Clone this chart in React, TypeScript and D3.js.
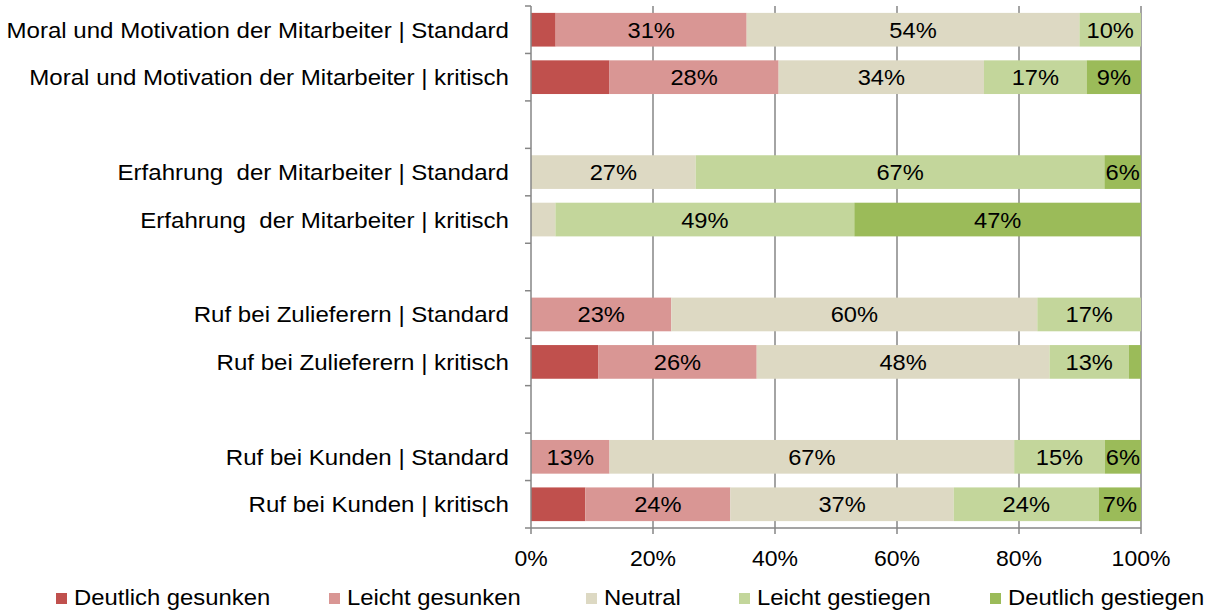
import React from 'react';
import * as d3 from 'd3';

const categories = [
  'Moral und Motivation der Mitarbeiter | Standard',
  'Moral und Motivation der Mitarbeiter | kritisch',
  '',
  'Erfahrung  der Mitarbeiter | Standard',
  'Erfahrung  der Mitarbeiter | kritisch',
  ' ',
  'Ruf bei Zulieferern | Standard',
  'Ruf bei Zulieferern | kritisch',
  '  ',
  'Ruf bei Kunden | Standard',
  'Ruf bei Kunden | kritisch',
];

const seriesNames = ['Deutlich gesunken', 'Leicht gesunken', 'Neutral', 'Leicht gestiegen', 'Deutlich gestiegen'];
const colors = ['#C0504D', '#D99694', '#DDD9C3', '#C3D69B', '#9BBB59'];

const deutlichGesunken = [4, 13, 0, 0, 0, 0, 0, 11, 0, 0, 9];
const leichtGesunken = [31, 28, 0, 0, 0, 0, 23, 26, 0, 13, 24];
const neutral = [54, 34, 0, 27, 4, 0, 60, 48, 0, 67, 37];
const leichtGestiegen = [10, 17, 0, 67, 49, 0, 17, 13, 0, 15, 24];
const deutlichGestiegen = [0, 9, 0, 6, 47, 0, 0, 2, 0, 6, 7];

const xTicks = [0, 0.2, 0.4, 0.6, 0.8, 1];

const font = 'Liberation Sans, Arial, sans-serif';

// the reference text is a bit stretched horizontally
function Label({ x, y, anchor = 'start', sx = 1.1, children }: any) {
  return (
    <text transform={`translate(${x},${y}) scale(${sx},1)`} textAnchor={anchor} fontFamily={font}
      fontSize={21.5} fill="#000" style={{ whiteSpace: 'pre' }}>{children}</text>
  );
}

export default function App() {
  const width = 1213;
  const height = 613;
  const left = 531;
  const right = 1141;
  const top = 6;
  const bottom = 528;

  const seriesValues = [deutlichGesunken, leichtGesunken, neutral, leichtGestiegen, deutlichGestiegen];
  const rows = categories.map((c, i) => {
    const r: any = { cat: c };
    seriesNames.forEach((s, j) => { r[s] = seriesValues[j][i]; });
    return r;
  });
  const stacked = d3.stack<any>().keys(seriesNames).offset(d3.stackOffsetExpand)(rows);

  const x = d3.scaleLinear().domain([0, 1]).range([left, right]);
  const y = d3.scaleBand().domain(categories).range([top, bottom]).paddingInner(0.29).paddingOuter(0.145);
  const band = (bottom - top) / categories.length;

  return (
    <svg width={width} height={height} style={{ position: 'absolute', left: 0, top: 0 }}>
      <rect width={width} height={height} fill="#fff" />
      {xTicks.slice(1).map(t => (
        <line key={t} x1={x(t)} x2={x(t)} y1={top} y2={bottom} stroke="#868686" strokeWidth={1.5} />
      ))}
      {stacked.map((s, si) => (
        <g key={s.key}>
          {s.map((d, i) => {
            const v = seriesValues[si][i];
            if (!v || isNaN(d[0]) || isNaN(d[1])) return null;
            const x0 = x(d[0]);
            const x1 = x(d[1]);
            const yy = y(categories[i])!;
            return (
              <g key={i}>
                <rect x={x0} y={yy} width={x1 - x0} height={y.bandwidth()} fill={colors[si]} />
                {si > 0 && v >= 5 && (
                  <Label x={(x0 + x1) / 2} y={yy + y.bandwidth() / 2 + 8} anchor="middle">{v}%</Label>
                )}
              </g>
            );
          })}
        </g>
      ))}
      <line x1={left} x2={left} y1={top} y2={bottom} stroke="#868686" strokeWidth={1.5} />
      <line x1={left} x2={right} y1={bottom} y2={bottom} stroke="#868686" strokeWidth={1.5} />
      {d3.range(categories.length + 1).map(i => (
        <line key={i} x1={left - 6} x2={left} y1={top + i * band} y2={top + i * band} stroke="#868686" strokeWidth={1.5} />
      ))}
      {xTicks.map(t => (
        <g key={t}>
          <line x1={x(t)} x2={x(t)} y1={bottom} y2={bottom + 6} stroke="#868686" strokeWidth={1.5} />
          <Label x={x(t)} y={bottom + 38} anchor="middle" sx={1.07}>{d3.format('.0%')(t)}</Label>
        </g>
      ))}
      {categories.map(c => c.trim() && (
        <Label key={c} x={509} y={y(c)! + y.bandwidth() / 2 + 8} anchor="end" sx={1.12}>{c}</Label>
      ))}
      {seriesNames.map((s, i) => {
        const lx = [56, 329, 586, 739, 990][i];
        return (
          <g key={s}>
            <rect x={lx} y={593} width={11} height={11} fill={colors[i]} />
            <Label x={lx + 18} y={605} sx={1.11}>{s}</Label>
          </g>
        );
      })}
    </svg>
  );
}
